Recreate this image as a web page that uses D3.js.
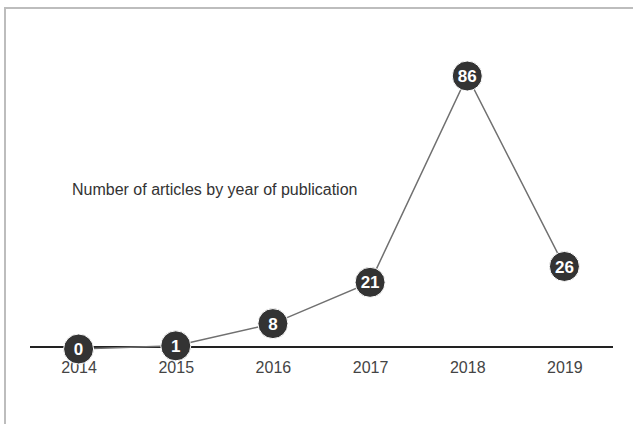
<!DOCTYPE html>
<html>
<head>
<meta charset="utf-8">
<script src="https://cdn.jsdelivr.net/npm/d3@7"></script>
<style>
  html, body { margin: 0; padding: 0; background: #fff; }
  svg { display: block; font-family: "Liberation Sans", Arial, Helvetica, sans-serif; }
</style>
</head>
<body>
<svg id="chart" width="633" height="424"></svg>
<script>
const years = ['2014', '2015', '2016', '2017', '2018', '2019'];
const counts = [0, 1, 8, 21, 86, 26];
const title = 'Number of articles by year of publication';

const svg = d3.select('#chart');

// frame (top + left edges visible, runs off the right/bottom)
svg.append('rect')
  .attr('x', 5).attr('y', 8)
  .attr('width', 700).attr('height', 500)
  .attr('fill', 'none').attr('stroke', '#bdbdbd').attr('stroke-width', 2);

const x = d3.scalePoint().domain(years).range([30, 613]).padding(0.5);
const y = d3.scaleLinear().domain([0, 86]).range([349, 76]);

svg.append('text')
  .attr('x', 72).attr('y', 195)
  .attr('font-size', 16).attr('fill', '#333')
  .text(title);

// baseline axis
const axis = svg.append('g').attr('transform', 'translate(0,347)')
  .call(d3.axisBottom(x).tickSize(0).tickPadding(15));
axis.select('.domain').attr('stroke', '#222').attr('stroke-width', 2)
  .attr('d', 'M30,0H613');
axis.selectAll('text').attr('font-size', 16).attr('fill', '#444')
  .attr('font-family', '"Liberation Sans", Arial, sans-serif');

const pts = years.map((yr, i) => ({ yr, v: counts[i] }));

svg.append('path')
  .datum(pts)
  .attr('fill', 'none').attr('stroke', '#707070').attr('stroke-width', 1.5)
  .attr('d', d3.line().x(d => x(d.yr)).y(d => y(d.v)));

const node = svg.selectAll('.node').data(pts).enter().append('g')
  .attr('class', 'node')
  .attr('transform', d => `translate(${x(d.yr)},${y(d.v)})`);

node.append('circle').attr('r', 15)
  .attr('fill', '#333').attr('stroke', '#fff').attr('stroke-width', 1);

node.append('text')
  .attr('text-anchor', 'middle').attr('dy', '0.36em')
  .attr('font-size', 17).attr('font-weight', 'bold').attr('fill', '#fff')
  .text(d => d.v);
</script>
</body>
</html>
